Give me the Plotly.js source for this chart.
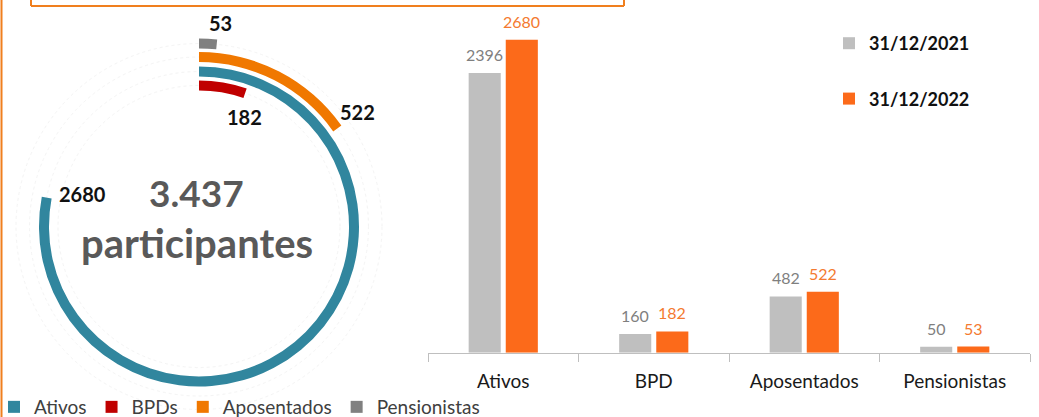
<!DOCTYPE html>
<html>
<head>
<meta charset="utf-8">
<script src="https://cdn.plot.ly/plotly-3.0.1.min.js"></script>
<style>
  html, body { margin: 0; padding: 0; background: #ffffff; }
  #chart { width: 1039px; height: 417px; }
</style>
</head>
<body>
<div id="chart"></div>
<script>
// ---------- DATA ----------
const categories = ['Ativos', 'BPD', 'Aposentados', 'Pensionistas'];
const ringLabels = ['Ativos', 'BPDs', 'Aposentados', 'Pensionistas'];
const seriesNames = ['31/12/2021', '31/12/2022'];
const values2021 = [2396, 160, 482, 50];
const values2022 = [2680, 182, 522, 53];
const totalLabel = 'participantes';

// ---------- STYLE / LAYOUT CONSTANTS ----------
const W = 1039, H = 417;
const FONT = 'Lato, "Open Sans", sans-serif';
const ringColors = ['#31869E', '#C00000', '#F07800', '#808080'];
const ringInner = [150, 136, 164.5, 178];   // px radius of each ring's inner edge
const ringThickness = 10;
const ringLabelPos = [[82, 194], [244, 117], [357, 112], [220, 23]]; // px
const polarCenter = [199, 226.5], polarR = 190;
const barColors = ['#BFBFBF', '#FC6A1A'];
const barTextColors = ['#7F7F7F', '#F47A30'];
const px = x => x / W;
const py = y => 1 - y / H;

const total = values2022.reduce((a, b) => a + b, 0);
const fmtThousands = n => String(n).replace(/\B(?=(\d{3})+(?!\d))/g, '.');

const traces = [];

// Radial (ring) chart
ringLabels.forEach((name, i) => {
  const frac = values2022[i] / total;
  traces.push({
    type: 'barpolar',
    name: name,
    r: [ringThickness],
    base: [ringInner[i]],
    theta: [frac * 180],
    width: [frac * 360],
    marker: { color: ringColors[i], line: { width: 0 } },
    subplot: 'polar',
    legend: 'legend',
    hoverinfo: 'skip'
  });
});

// Grouped bar chart
[values2021, values2022].forEach((vals, s) => {
  traces.push({
    type: 'bar',
    name: seriesNames[s],
    x: categories,
    y: vals,
    marker: { color: barColors[s], line: { width: 0 } },
    xaxis: 'x', yaxis: 'y',
    legend: 'legend2',
    legendgroup: 'g' + s,
    hoverinfo: 'skip'
  });
});

const annotations = [];
// ring value labels
values2022.forEach((v, i) => {
  annotations.push({
    xref: 'paper', yref: 'paper',
    x: px(ringLabelPos[i][0]), y: py(ringLabelPos[i][1]),
    xanchor: 'center', yanchor: 'middle',
    text: '<b>' + v + '</b>', showarrow: false,
    font: { family: FONT, size: 20, color: '#111111' }
  });
});
// center text
annotations.push({
  xref: 'paper', yref: 'paper', x: px(196), y: py(192),
  xanchor: 'center', yanchor: 'middle', showarrow: false,
  text: '<b>' + fmtThousands(total) + '</b>',
  font: { family: FONT, size: 37, color: '#595959' }
});
annotations.push({
  xref: 'paper', yref: 'paper', x: px(196.5), y: py(243),
  xanchor: 'center', yanchor: 'middle', showarrow: false,
  text: '<b>' + totalLabel + '</b>',
  font: { family: FONT, size: 40, color: '#595959' }
});
// bar value labels
[values2021, values2022].forEach((vals, s) => {
  vals.forEach((v, i) => {
    annotations.push({
      xref: 'x', yref: 'y', x: categories[i], y: v,
      xshift: s === 0 ? -18.5 : 18.5, yshift: 7,
      xanchor: 'center', yanchor: 'bottom', showarrow: false,
      text: String(v),
      font: { family: FONT, size: 16, color: barTextColors[s] }
    });
  });
});

const orange = '#F07F1E';
const shapes = [
  { type: 'line', xref: 'paper', yref: 'paper', x0: px(31), x1: px(31), y0: py(6), y1: 1.02, line: { color: orange, width: 2 } },
  { type: 'line', xref: 'paper', yref: 'paper', x0: px(31), x1: px(624), y0: py(6), y1: py(6), line: { color: orange, width: 2 } },
  { type: 'line', xref: 'paper', yref: 'paper', x0: px(624), x1: px(624), y0: py(6), y1: 1.02, line: { color: orange, width: 2 } },
  { type: 'line', xref: 'paper', yref: 'paper', x0: px(1.5), x1: px(1.5), y0: -0.02, y1: 1.02, line: { color: orange, width: 2 } }
];

const gridR = ringInner.map(r => r + ringThickness / 2);

const layout = {
  width: W, height: H,
  margin: { l: 0, r: 0, t: 0, b: 0, pad: 0, autoexpand: false },
  paper_bgcolor: '#ffffff',
  plot_bgcolor: 'rgba(0,0,0,0)',
  font: { family: FONT, color: '#262626' },
  showlegend: true,
  polar: {
    domain: {
      x: [px(polarCenter[0] - polarR), px(polarCenter[0] + polarR)],
      y: [py(polarCenter[1] + polarR), py(polarCenter[1] - polarR)]
    },
    bgcolor: 'rgba(0,0,0,0)',
    hole: 0,
    radialaxis: {
      range: [0, polarR], showline: false, showticklabels: false, ticks: '',
      tickvals: gridR, showgrid: true, gridcolor: '#f4f4f4', griddash: 'dot', gridwidth: 1
    },
    angularaxis: {
      rotation: 90, direction: 'clockwise', thetaunit: 'degrees',
      showgrid: false, showline: false, showticklabels: false, ticks: ''
    }
  },
  barmode: 'group',
  bargap: 0.507,
  bargroupgap: 0.135,
  xaxis: {
    domain: [px(428), px(1030)],
    anchor: 'y',
    type: 'category',
    showline: true, linecolor: '#BFBFBF', linewidth: 1,
    ticks: 'outside', tickson: 'boundaries', ticklen: 8, tickcolor: '#BFBFBF', tickwidth: 1,
    ticklabelstandoff: 11,
    tickfont: { family: FONT, size: 19, color: '#1a1a1a' },
    showgrid: false, zeroline: false, fixedrange: true
  },
  yaxis: {
    domain: [py(352.7), py(25.7)],
    anchor: 'x',
    range: [0, 2800],
    visible: false, showgrid: false, zeroline: false, fixedrange: true
  },
  legend: {
    orientation: 'h',
    x: px(-6), xanchor: 'left',
    y: py(407), yanchor: 'middle',
    bgcolor: 'rgba(0,0,0,0)',
    font: { family: FONT, size: 19, color: '#404040' },
    itemclick: false, itemdoubleclick: false
  },
  legend2: {
    orientation: 'v',
    x: px(829), xanchor: 'left',
    y: py(25), yanchor: 'top',
    bgcolor: 'rgba(0,0,0,0)',
    traceorder: 'grouped',
    tracegroupgap: 29,
    font: { family: FONT, size: 18, color: '#111111', weight: 'bold' },
    itemclick: false, itemdoubleclick: false
  },
  annotations: annotations,
  shapes: shapes
};

Plotly.newPlot('chart', traces, layout, { displayModeBar: false, staticPlot: true });
</script>
</body>
</html>
